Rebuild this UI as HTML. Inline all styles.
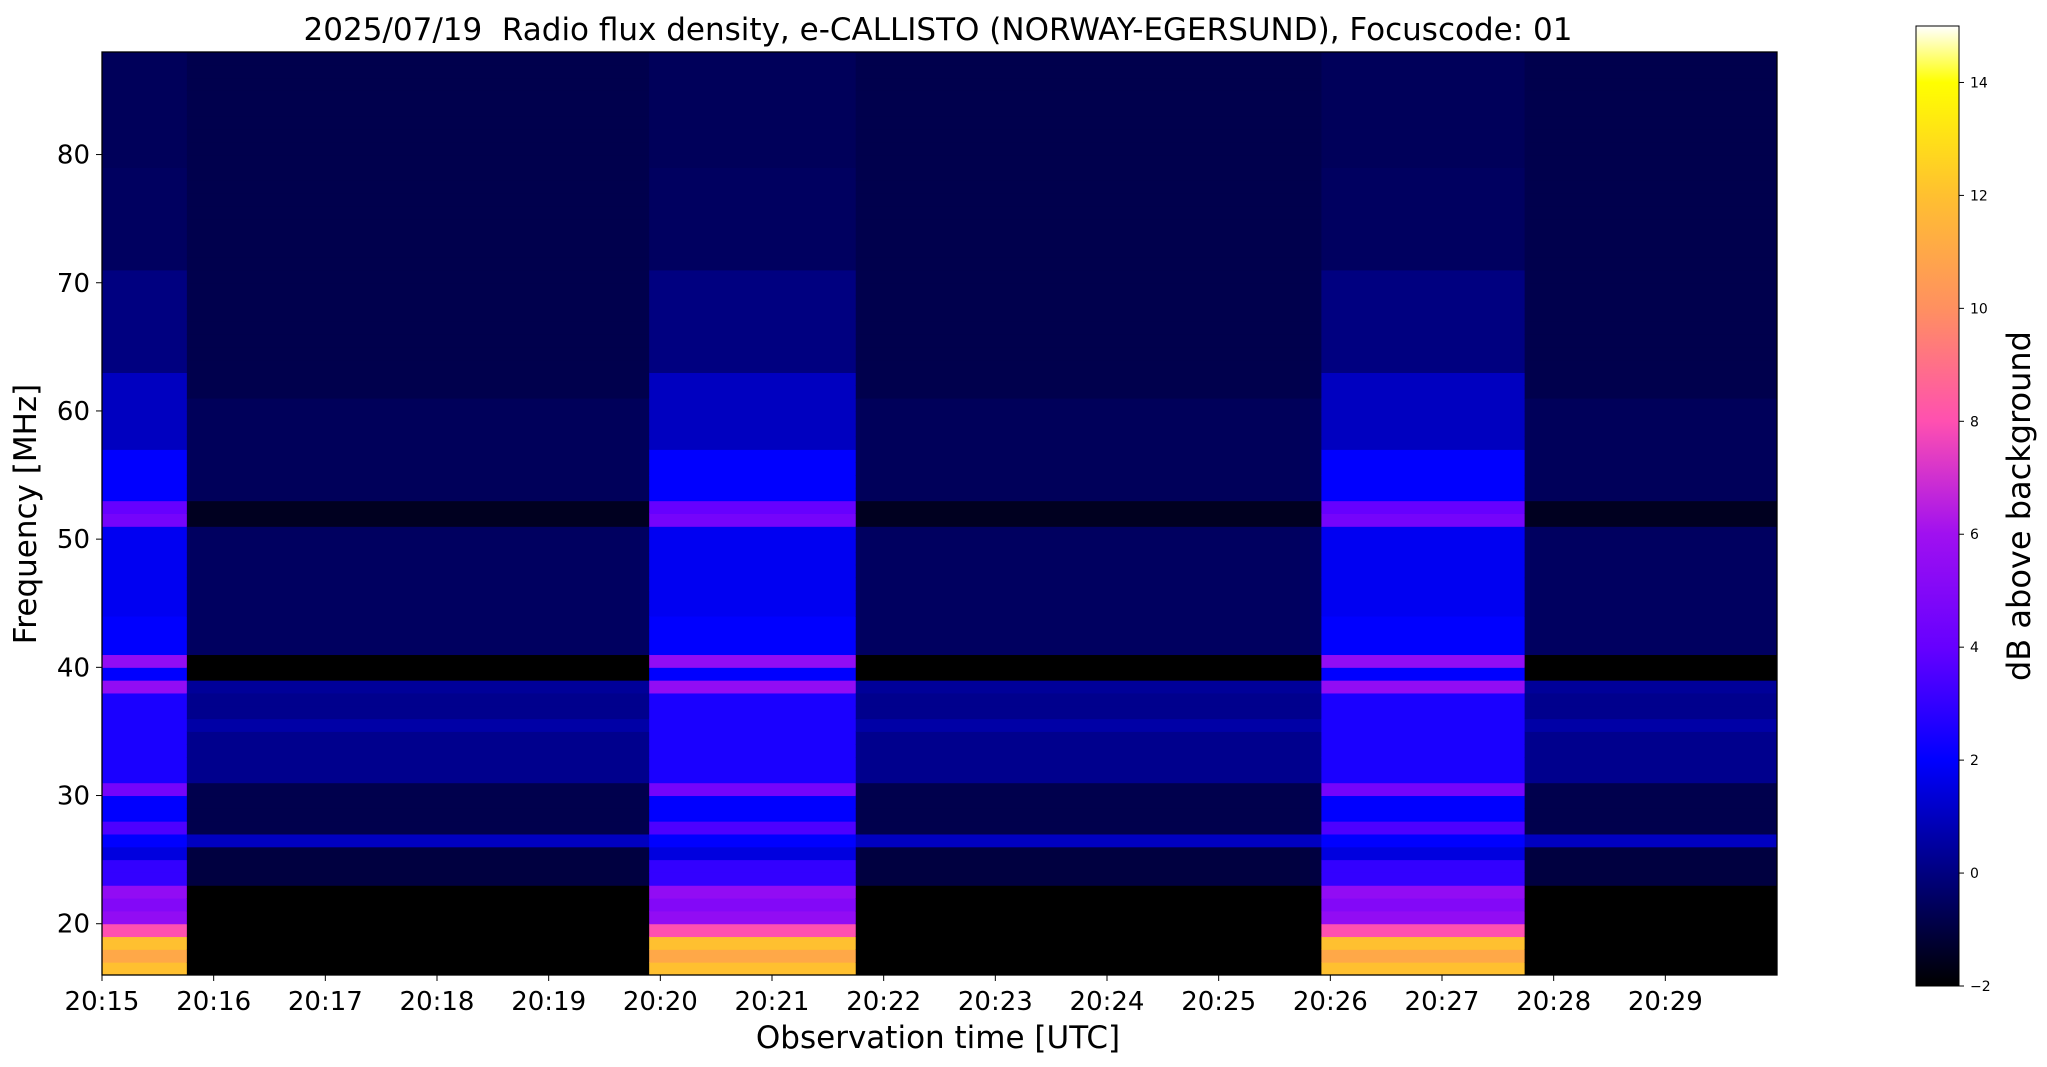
<!DOCTYPE html>
<html><head><meta charset="utf-8"><style>
body{margin:0;background:#fff;}
svg{display:block;font-family:"DejaVu Sans","Liberation Sans",sans-serif;}
</style></head><body>
<svg id="chart" width="2047" height="1067">
<defs>
<linearGradient id="cmap" x1="0" y1="1" x2="0" y2="0">
<stop offset="0" stop-color="#000000"/>
<stop offset="0.1176" stop-color="#000080"/>
<stop offset="0.2353" stop-color="#0000ff"/>
<stop offset="0.3529" stop-color="#6600ff"/>
<stop offset="0.4706" stop-color="#a010f0"/>
<stop offset="0.5882" stop-color="#ff50b0"/>
<stop offset="0.7059" stop-color="#ff9060"/>
<stop offset="0.8235" stop-color="#ffc030"/>
<stop offset="0.9412" stop-color="#ffff00"/>
<stop offset="1" stop-color="#ffffff"/>
</linearGradient>
</defs>
<text x="938" y="40" font-size="31" text-anchor="middle" xml:space="preserve">2025/07/19  Radio flux density, e-CALLISTO (NORWAY-EGERSUND), Focuscode: 01</text>
<g id="heat"></g>
<rect x="102" y="52" width="1675" height="923" fill="none" stroke="#000" stroke-width="1.3"/>
<g id="xt"></g>
<g id="yt"></g>
<text x="938" y="1048" font-size="31" text-anchor="middle">Observation time [UTC]</text>
<text transform="translate(36,514) rotate(-90)" font-size="31" text-anchor="middle">Frequency [MHz]</text>
<rect x="1916" y="26" width="43" height="960" fill="url(#cmap)" stroke="#000" stroke-width="1"/>
<g id="ct"></g>
<text transform="translate(2030,506) rotate(-90)" font-size="32" text-anchor="middle">dB above background</text>
</svg>
<script>
const segStarts=[0,0.76,4.9,6.75,10.92,12.74];
const segEnds=[0.76,4.9,6.75,10.92,12.74,15];
const segBright=[1,0,1,0,1,0];
const freqs=[];for(let f=16;f<88;f++)freqs.push(f);
const brightDb=[12,11,12,8,5.5,5,5.5,3,3,1.5,2,3.5,2,2,4.5,2.5,2.5,2.5,2.5,2.5,2.5,2.5,5.5,2,5.5,2,2,2,1.8,1.8,1.8,1.8,1.8,1.8,1.8,4.5,4,2,2,2,2,1,1,1,1,1,1,0,0,0,0,0,0,0,0,-0.5,-0.5,-0.5,-0.5,-0.5,-0.5,-0.5,-0.5,-0.6,-0.6,-0.6,-0.6,-0.6,-0.6,-0.6,-0.6,-0.6];
const darkDb=[-2,-2,-2,-2,-2,-2,-2,-1,-1,-1,1,-0.8,-0.8,-0.8,-0.8,0.2,0.2,0.2,0.2,0.6,0.2,0.2,0.4,-2,-2,-0.5,-0.5,-0.5,-0.5,-0.5,-0.5,-0.5,-0.5,-0.5,-0.5,-1.5,-1.5,-0.6,-0.6,-0.6,-0.6,-0.6,-0.6,-0.6,-0.6,-0.8,-0.8,-0.8,-0.8,-0.8,-0.8,-0.8,-0.8,-0.8,-0.8,-0.8,-0.8,-0.8,-0.8,-0.8,-0.8,-0.8,-0.8,-0.8,-0.8,-0.8,-0.8,-0.8,-0.8,-0.8,-0.8,-0.8];
const xTicks=["20:15","20:16","20:17","20:18","20:19","20:20","20:21","20:22","20:23","20:24","20:25","20:26","20:27","20:28","20:29"];
const yTicks=[20,30,40,50,60,70,80];
const cTicks=[-2,0,2,4,6,8,10,12,14];

const X=m=>102+m*(1675/15);
const Y=f=>975-(f-16)*(923/72);
const stops=[[-2,0,0,0],[0,0,0,128],[2,0,0,255],[4,102,0,255],[6,160,16,240],[8,255,80,176],[10,255,144,96],[12,255,192,48],[14,255,255,0],[15,255,255,255]];
function col(v){v=Math.max(-2,Math.min(15,v));for(let i=1;i<stops.length;i++){if(v<=stops[i][0]){const a=stops[i-1],b=stops[i],t=(v-a[0])/(b[0]-a[0]);return `rgb(${[1,2,3].map(k=>Math.round(a[k]+(b[k]-a[k])*t)).join(',')})`;}}return '#fff';}
const NS='http://www.w3.org/2000/svg';
const heat=document.getElementById('heat');
segStarts.forEach((s,si)=>{const prof=segBright[si]?brightDb:darkDb;
freqs.forEach((f,fi)=>{const r=document.createElementNS(NS,'rect');
r.setAttribute('x',X(s));r.setAttribute('width',X(segEnds[si])-X(s)+0.5);
r.setAttribute('y',Y(f+1));r.setAttribute('height',Y(f)-Y(f+1)+0.5);
r.setAttribute('fill',col(prof[fi]));


heat.appendChild(r);});});
const xt=document.getElementById('xt');
xTicks.forEach((t,i)=>{const x=X(i);
const l=document.createElementNS(NS,'line');l.setAttribute('x1',x);l.setAttribute('x2',x);l.setAttribute('y1',975);l.setAttribute('y2',981);l.setAttribute('stroke','#000');

xt.appendChild(l);
const tx=document.createElementNS(NS,'text');tx.setAttribute('x',x);tx.setAttribute('y',1010);tx.setAttribute('font-size','26');tx.setAttribute('text-anchor','middle');tx.textContent=t;

xt.appendChild(tx);});
const yt=document.getElementById('yt');
yTicks.forEach(v=>{const y=Y(v);
const l=document.createElementNS(NS,'line');l.setAttribute('x1',96);l.setAttribute('x2',102);l.setAttribute('y1',y);l.setAttribute('y2',y);l.setAttribute('stroke','#000');

yt.appendChild(l);
const tx=document.createElementNS(NS,'text');tx.setAttribute('x',90);tx.setAttribute('y',y+9);tx.setAttribute('font-size','26');tx.setAttribute('text-anchor','end');tx.textContent=v;

yt.appendChild(tx);});
const ct=document.getElementById('ct');
cTicks.forEach(v=>{const y=986-(v+2)*(960/17);
const l=document.createElementNS(NS,'line');l.setAttribute('x1',1959);l.setAttribute('x2',1964);l.setAttribute('y1',y);l.setAttribute('y2',y);l.setAttribute('stroke','#000');

ct.appendChild(l);
const tx=document.createElementNS(NS,'text');tx.setAttribute('x',1970);tx.setAttribute('y',y+5);tx.setAttribute('font-size','14');tx.textContent=v<0?'\u2212'+(-v):v;

ct.appendChild(tx);});
</script>
</body></html>
